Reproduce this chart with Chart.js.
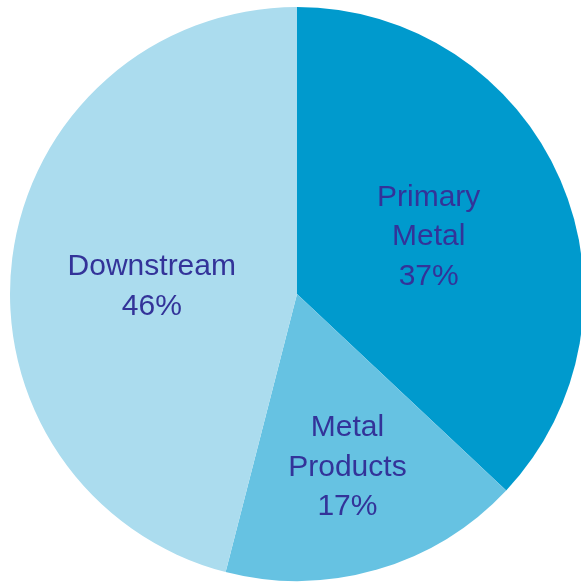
<!DOCTYPE html>
<html lang="en">
<head>
  <meta charset="UTF-8">
  <title>Segments</title>
  <script src="https://cdn.jsdelivr.net/npm/chart.js"></script>
  <style>
    html, body{
      margin: 0;
      padding: 0;
      background: #fff;
      overflow: hidden;
    }
    #wrap{
      position: relative;
      width: 581px;
      height: 584px;
      overflow: hidden;
    }
    #box{
      position: absolute;
      left: 0;
      top: 0;
      width: 594px;
      height: 588px;
    }
  </style>
</head>
<body>
  <div id="wrap">
    <div id="box"><canvas id="pieChart"></canvas></div>
  </div>

<script>
  const segments = [['Primary', 'Metal'], ['Metal', 'Products'], ['Downstream']];
  const shares = [37, 17, 46];
  const sliceColors = ['#009acd', '#66c2e2', '#abdcee'];

  // where each label sits along the slice's middle angle (fraction of radius)
  const labelPlace = [
    {f: 0.50, dx: 0, dy: 0},
    {f: 0.63, dx: 0, dy: 0},
    {f: 0.51, dx: 0, dy: 11}
  ];

  const sliceLabels = {
    id: 'sliceLabels',
    afterDatasetsDraw(chart) {
      const ctx = chart.ctx;
      const meta = chart.getDatasetMeta(0);
      ctx.save();
      ctx.fillStyle = '#333399';
      ctx.font = '30px "Liberation Sans", Arial, sans-serif';
      ctx.textAlign = 'center';
      ctx.textBaseline = 'middle';
      meta.data.forEach((arc, i) => {
        const p = arc.getProps(['x', 'y', 'startAngle', 'endAngle', 'outerRadius'], true);
        const mid = (p.startAngle + p.endAngle) / 2;
        const r = p.outerRadius * labelPlace[i].f;
        const x = p.x + Math.cos(mid) * r + labelPlace[i].dx;
        const y = p.y + Math.sin(mid) * r + labelPlace[i].dy;
        const lines = segments[i].concat([shares[i] + '%']);
        const lh = 39.5;
        const top = y - (lines.length - 1) * lh / 2;
        lines.forEach((t, k) => ctx.fillText(t, x, top + k * lh));
      });
      ctx.restore();
    }
  };

  new Chart(document.getElementById('pieChart'), {
    type: 'pie',
    data: {
      labels: segments.map(s => s.join(' ')),
      datasets: [{
        data: shares,
        backgroundColor: sliceColors,
        borderWidth: 0,
        radius: 287
      }]
    },
    options: {
      responsive: true,
      maintainAspectRatio: false,
      animation: false,
      layout: { padding: 0 },
      plugins: {
        legend: { display: false },
        tooltip: { enabled: false }
      }
    },
    plugins: [sliceLabels]
  });
</script>
</body>
</html>
